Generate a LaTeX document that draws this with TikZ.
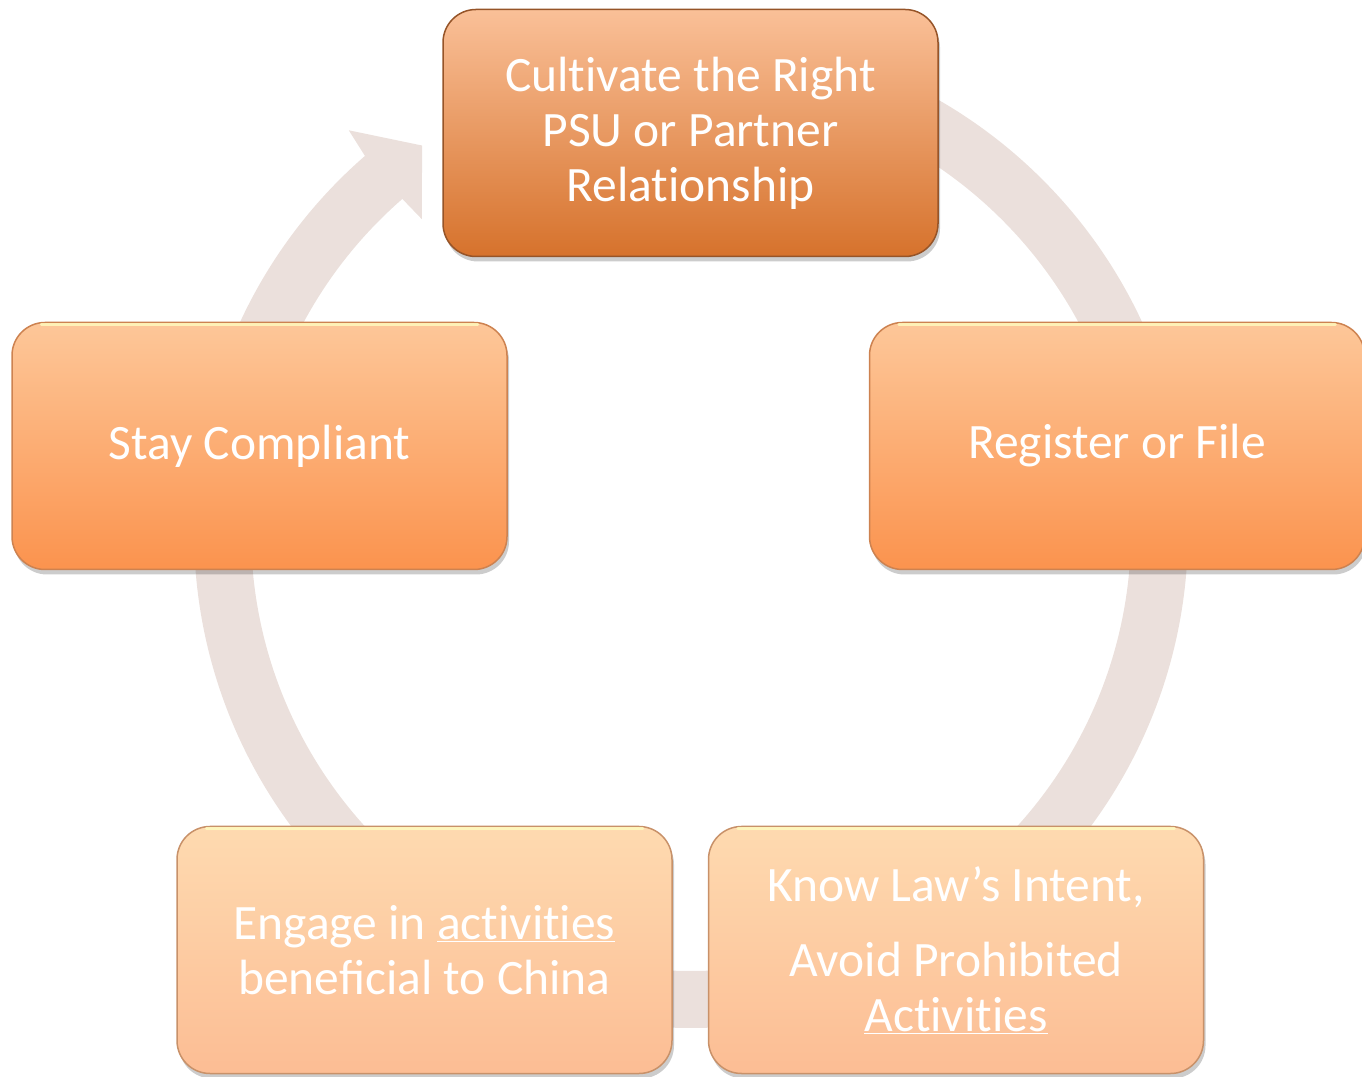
\documentclass[tikz,border=0pt]{standalone}
\usepackage{fontspec}
\setmainfont{Carlito}
\usetikzlibrary{calc,shadows}
\newcommand{\nolig}{\kern0pt}
\definecolor{ringcolor}{RGB}{235,224,220}
\definecolor{darktop}{RGB}{250,192,152}
\definecolor{darkbottom}{RGB}{214,114,44}
\definecolor{darkedge}{RGB}{150,84,40}
\definecolor{midtop}{RGB}{253,199,153}
\definecolor{midbottom}{RGB}{251,147,78}
\definecolor{midedge}{RGB}{205,130,80}
\definecolor{lighttop}{RGB}{254,218,176}
\definecolor{lightbottom}{RGB}{252,189,148}
\definecolor{lightedge}{RGB}{200,145,105}

\tikzset{
  stepbox/.style={rounded corners=33pt, minimum width=495pt, minimum height=247pt,
    inner sep=0pt, text=white, align=center, line width=1.5pt,
    font=\fontsize{49.5}{55}\selectfont,
    drop shadow={shadow xshift=2pt, shadow yshift=-5pt, opacity=0.2, fill=black}},
  darkbox/.style={stepbox, top color=darktop, bottom color=darkbottom, draw=darkedge},
  midbox/.style={stepbox, top color=midtop, bottom color=midbottom, draw=midedge},
  lightbox/.style={stepbox, top color=lighttop, bottom color=lightbottom, draw=lightedge},
  ring/.style={draw=ringcolor, line width=57pt},
  glint/.style={draw=yellow!25!white, line width=3pt, opacity=0.8, line cap=round}
}

\begin{document}
\begin{tikzpicture}[x=1pt,y=1pt]
\useasboundingbox (0,0) rectangle (1362,1076);
\coordinate (hub) at (691,545);

% Cycle ring behind the boxes
\draw[ring] ($(hub)+(90:468.5)$) arc[start angle=90, end angle=-229.5, radius=468.5];
\fill[ringcolor] ($(hub)+(131:440)$) -- ($(hub)+(130.8:412)$) -- ($(hub)+(124.9:470)$)
  -- ($(hub)+(130.5:527)$) -- ($(hub)+(131:497)$) -- cycle;

% Steps
\node[darkbox] (cultivate) at (690.5,943) {Cult\nolig ivate the Right\\PSU or Partner\\Relat\nolig ionship};
\node[midbox] (register) at (1117,630) {Register or File};
\node[midbox] (stay) at (259.5,630) {Stay Compliant};
\node[lightbox] (know) at (956,126) {Know Law’s Intent,\\[20pt]Avoid Prohibited\\\underline{Act\nolig ivit\nolig ies}};
\node[lightbox] (engage) at (424.5,126) {Engage in \underline{act\nolig ivit\nolig ies}\\beneficial to China};

% Bevel highlight along the top edges
\foreach \b in {register,stay,know,engage}
  \draw[glint] ([xshift=30pt,yshift=-3pt]\b.north west) -- ([xshift=-30pt,yshift=-3pt]\b.north east);

\end{tikzpicture}
\end{document}
